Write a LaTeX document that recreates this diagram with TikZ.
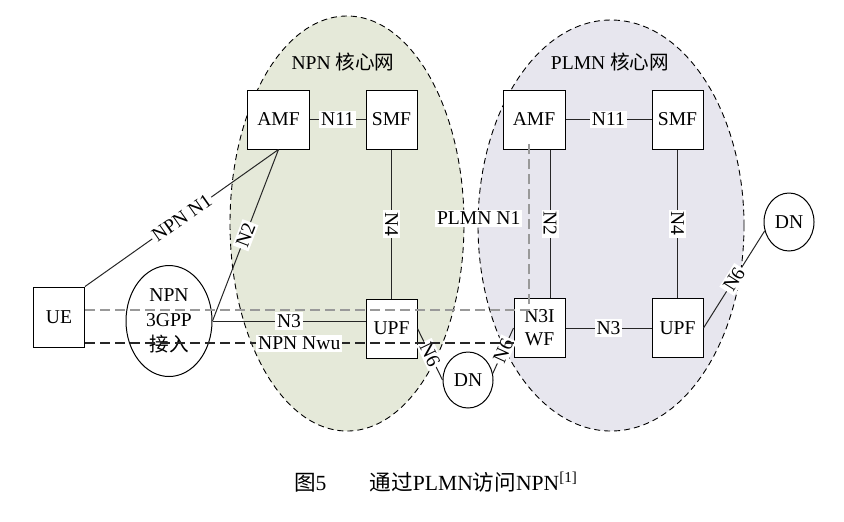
\documentclass[tikz,border=0pt]{standalone}
\usepackage{fontspec}
\setmainfont{Liberation Serif}
\newfontfamily\cjk{Noto Sans CJK SC}
\usepackage{tikz}
\usetikzlibrary{positioning,shapes.geometric}

\definecolor{npngreen}{RGB}{229,233,217}
\definecolor{plmnpurple}{RGB}{231,230,238}
\newcommand\lblfont{\fontsize{9.8}{11.5}\selectfont}
\newcommand\zh[1]{{\cjk #1}}

\begin{document}
\begin{tikzpicture}[x=0.5pt, y=-0.5pt,
        core/.style  = {draw, ellipse, dash pattern=on 3pt off 2pt, line width=0.45pt,
                        inner sep=0pt},
        nf/.style    = {draw, fill=white, minimum width=25.5pt, minimum height=29.5pt,
                        inner sep=1pt, font=\lblfont, line width=0.5pt},
        amf/.style   = {nf, minimum width=31pt},
        oval/.style  = {draw, ellipse, fill=white, inner sep=0pt, font=\lblfont,
                        line width=0.5pt},
        lbl/.style   = {fill=white, inner sep=1pt, font=\lblfont, text=black},
        ln/.style    = {line width=0.5pt, black!85},
        gdash/.style = {line width=0.6pt, gray!80, dash pattern=on 5pt off 2.5pt},
        kdash/.style = {line width=0.6pt, black!85, dash pattern=on 5pt off 2.5pt},
    ]
        \useasboundingbox (0,0) rectangle (844,521);

        % ---- core network regions ----
        \node (npn)  [core, fill=npngreen, minimum width=117pt, minimum height=207.5pt]
            at (347,223.5) {};
        \node (plmn) [core, fill=plmnpurple, minimum width=133pt, minimum height=205.5pt]
            at (611,225.5) {};
        \node (npnT)  [font=\lblfont] at (343,62) {NPN \zh{核心网}};
        \node (plmnT) [font=\lblfont] at (610,62) {PLMN \zh{核心网}};

        % ---- network functions ----
        \node (ue)    [nf, minimum height=30pt] at (59,317)    {UE};
        \node (acc)   [oval, minimum width=43pt, minimum height=55.5pt, align=center,
                       font=\fontsize{9.8}{12.5}\selectfont] at (169,321)
                      {NPN\\3GPP\\\zh{接入}};
        \node (amfA)  [amf] at (278.5,119.5) {AMF};
        \node (smfA)  [nf]  at (391.5,119.5) {SMF};
        \node (upfA)  [nf]  at (391.5,328.5) {UPF};
        \node (dnA)   [oval, minimum width=25pt, minimum height=28pt] at (468,380) {DN};
        \node (amfB)  [amf] at (534,119.5)   {AMF};
        \node (smfB)  [nf]  at (677.5,119.5) {SMF};
        \node (n3iwf) [nf, align=center, font=\fontsize{9.8}{11.5}\selectfont]
            at (539.5,328) {N3I\\WF};
        \node (upfB)  [nf]  at (677.5,328)   {UPF};
        \node (dnB)   [oval, minimum width=25pt, minimum height=29pt] at (789,222) {DN};

        % ---- NPN side ----
        \draw[ln] (amfA) -- node[lbl] {N11} (smfA);
        \draw[ln] (smfA) -- node[lbl, rotate=-90] {N4} (upfA);
        \draw[ln] (ue.north east) -- node[lbl, sloped] {NPN N1} (amfA.south);
        \draw[ln] (acc.east) -- node[lbl, sloped] {N2} (amfA.south);
        \draw[ln] (acc.east) -- node[lbl] {N3} (acc.east -| upfA.west);
        \draw[ln] (upfA.east) -- node[lbl, sloped] {N6} (dnA.west);

        % ---- PLMN side ----
        \draw[ln] (amfB) -- node[lbl] {N11} (smfB);
        \draw[ln] (smfB) -- node[lbl, rotate=-90] {N4} (upfB);
        \draw[ln] ([xshift=8pt]amfB.south) -- node[lbl, rotate=-90] {N2}
            ([xshift=8pt]amfB.south |- n3iwf.north);
        \draw[ln] (n3iwf) -- node[lbl] {N3} (upfB);
        \draw[ln] (dnA.15) -- node[lbl, sloped] {N6} (n3iwf.west);
        \draw[ln] (upfB.east) -- node[lbl, sloped] {N6} (dnB.200);

        % ---- dashed signalling paths ----
        \draw[gdash] ([yshift=3.5pt]ue.east) -| node[pos=0.77, left, lbl, xshift=-3pt]
            {PLMN N1} ([xshift=-2.5pt, yshift=4.5pt]amfB.south);
        \draw[kdash] ([yshift=-13pt]ue.east) -- node[lbl] {NPN Nwu}
            ([yshift=-13pt]ue.east -| n3iwf.west);

        % ---- caption ----
        \node (cap) [font=\fontsize{10.8}{12}\selectfont] at (436,482)
            {\zh{图}5\hspace{2em}\zh{通过}PLMN\zh{访问}NPN\textsuperscript{[1]}};
    \end{tikzpicture}
\end{document}
